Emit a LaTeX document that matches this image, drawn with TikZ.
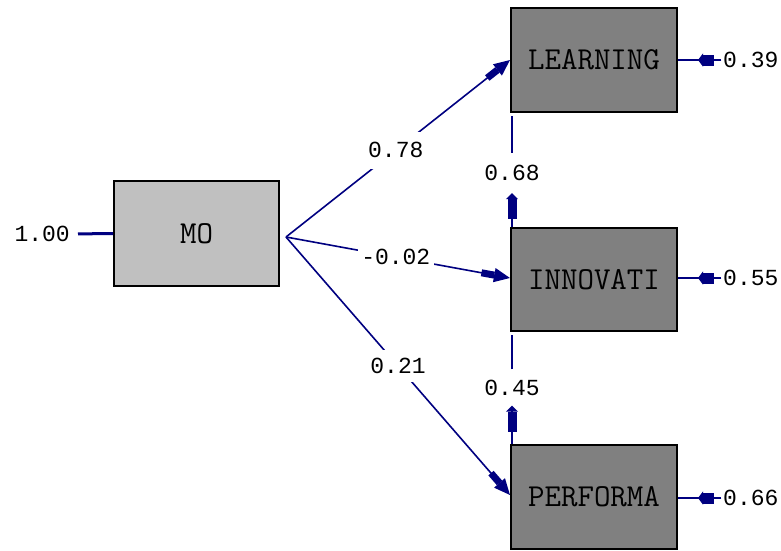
\documentclass[tikz,border=0pt]{standalone}
\usepackage{fontspec}
\newfontfamily\numfont{Liberation Mono}
\usetikzlibrary{arrows.meta}
\definecolor{navy}{RGB}{0,0,128}
\definecolor{boxlight}{RGB}{192,192,192}
\definecolor{boxdark}{RGB}{128,128,128}
\begin{document}
\begin{tikzpicture}[x=1pt,y=-1pt,
  varbox/.style={draw=black,line width=2pt,minimum width=166pt,minimum height=104pt,inner sep=0pt,fill=boxdark,
    font=\ttfamily\fontsize{32}{32}\selectfont,text=black},
  num/.style={font=\numfont\fontsize{23}{23}\selectfont,text=black,inner sep=0pt},
  conn/.style={draw=navy,line width=1.6pt},
  vconn/.style={draw=navy,line width=2pt},
  errline/.style={draw=navy,line width=2.6pt},
  bigtip/.style={-{Rectangle[length=13pt,width=7pt,sep=0pt]Triangle[length=16pt,width=14pt]}},
  vtip/.style={-{Rectangle[length=20pt,width=9pt,sep=0pt]Triangle[length=6pt,width=12pt]}},
  etip/.style={-{Rectangle[length=11pt,width=11pt,sep=0pt]Triangle[length=5pt,width=13pt]}},
  lbl/.style={num,fill=white}
]
\useasboundingbox (0,0) rectangle (781,550);
\clip (0,0) rectangle (781,550);

% boxes
\node[varbox,fill=boxlight,minimum width=165pt,minimum height=105pt] (MO) at (196.5,233.5) {MO};
\node[varbox] (LEARN) at (594,60) {LEARNING};
\node[varbox,minimum height=103pt] (INNOV) at (594,279.5) {INNOVATI};
\node[varbox] (PERF) at (594,497) {PERFORMA};

% error of MO
\node[num,anchor=east] (e0) at (70,234) {1.00};
\draw[errline,line width=3pt,shorten <=8pt] (e0.east) -- (MO.west);

% errors of endogenous variables
\node[num,anchor=west,inner xsep=2pt] (e1) at (721,60) {0.39};
\node[num,anchor=west,inner xsep=2pt] (e2) at (721,278) {0.55};
\node[num,anchor=west,inner xsep=2pt] (e3) at (721,498) {0.66};
\coordinate (t1) at (698,60);
\coordinate (t2) at (698,278);
\coordinate (t3) at (698,498);
\draw[errline] (e1.west) -- (LEARN.east |- e1.west);
\draw[errline] (e2.west) -- (INNOV.east |- e2.west);
\draw[errline] (e3.west) -- (PERF.east |- e3.west);
\draw[errline,line width=1pt,etip,fill=navy] (e1.west) -- (t1);
\draw[errline,line width=1pt,etip,fill=navy] (e2.west) -- (t2);
\draw[errline,line width=1pt,etip,fill=navy] (e3.west) -- (t3);

% paths from MO
\coordinate (mo) at (286,237);
\draw[conn,bigtip,fill=navy] (mo) -- node[lbl,pos=0.49,minimum height=37pt,minimum width=57pt] (p1) {0.78} (LEARN.west);
\draw[conn,bigtip,fill=navy] (mo) -- node[lbl,pos=0.49,minimum height=10pt,minimum width=76pt] (p2) {-0.02} (INNOV.west |- 0,278);
\draw[conn,bigtip,fill=navy] (mo) -- node[lbl,pos=0.5,minimum height=32pt,minimum width=55pt] (p3) {0.21} (PERF.west |- 0,495);

% vertical paths
\node[lbl,minimum height=40pt] (v1) at (512,173) {0.68};
\node[lbl,minimum height=36pt] (v2) at (512,387.5) {0.45};
\draw[vconn,shorten >=3pt] (v1.north) -- (v1.north |- LEARN.south);
\draw[conn,vtip,fill=navy] (v1.south |- INNOV.north) -- (v1.south);
\draw[vconn,shorten >=3pt] (v2.north) -- (v2.north |- INNOV.south);
\draw[conn,vtip,fill=navy] (v2.south |- PERF.north) -- (v2.south);
\end{tikzpicture}
\end{document}
